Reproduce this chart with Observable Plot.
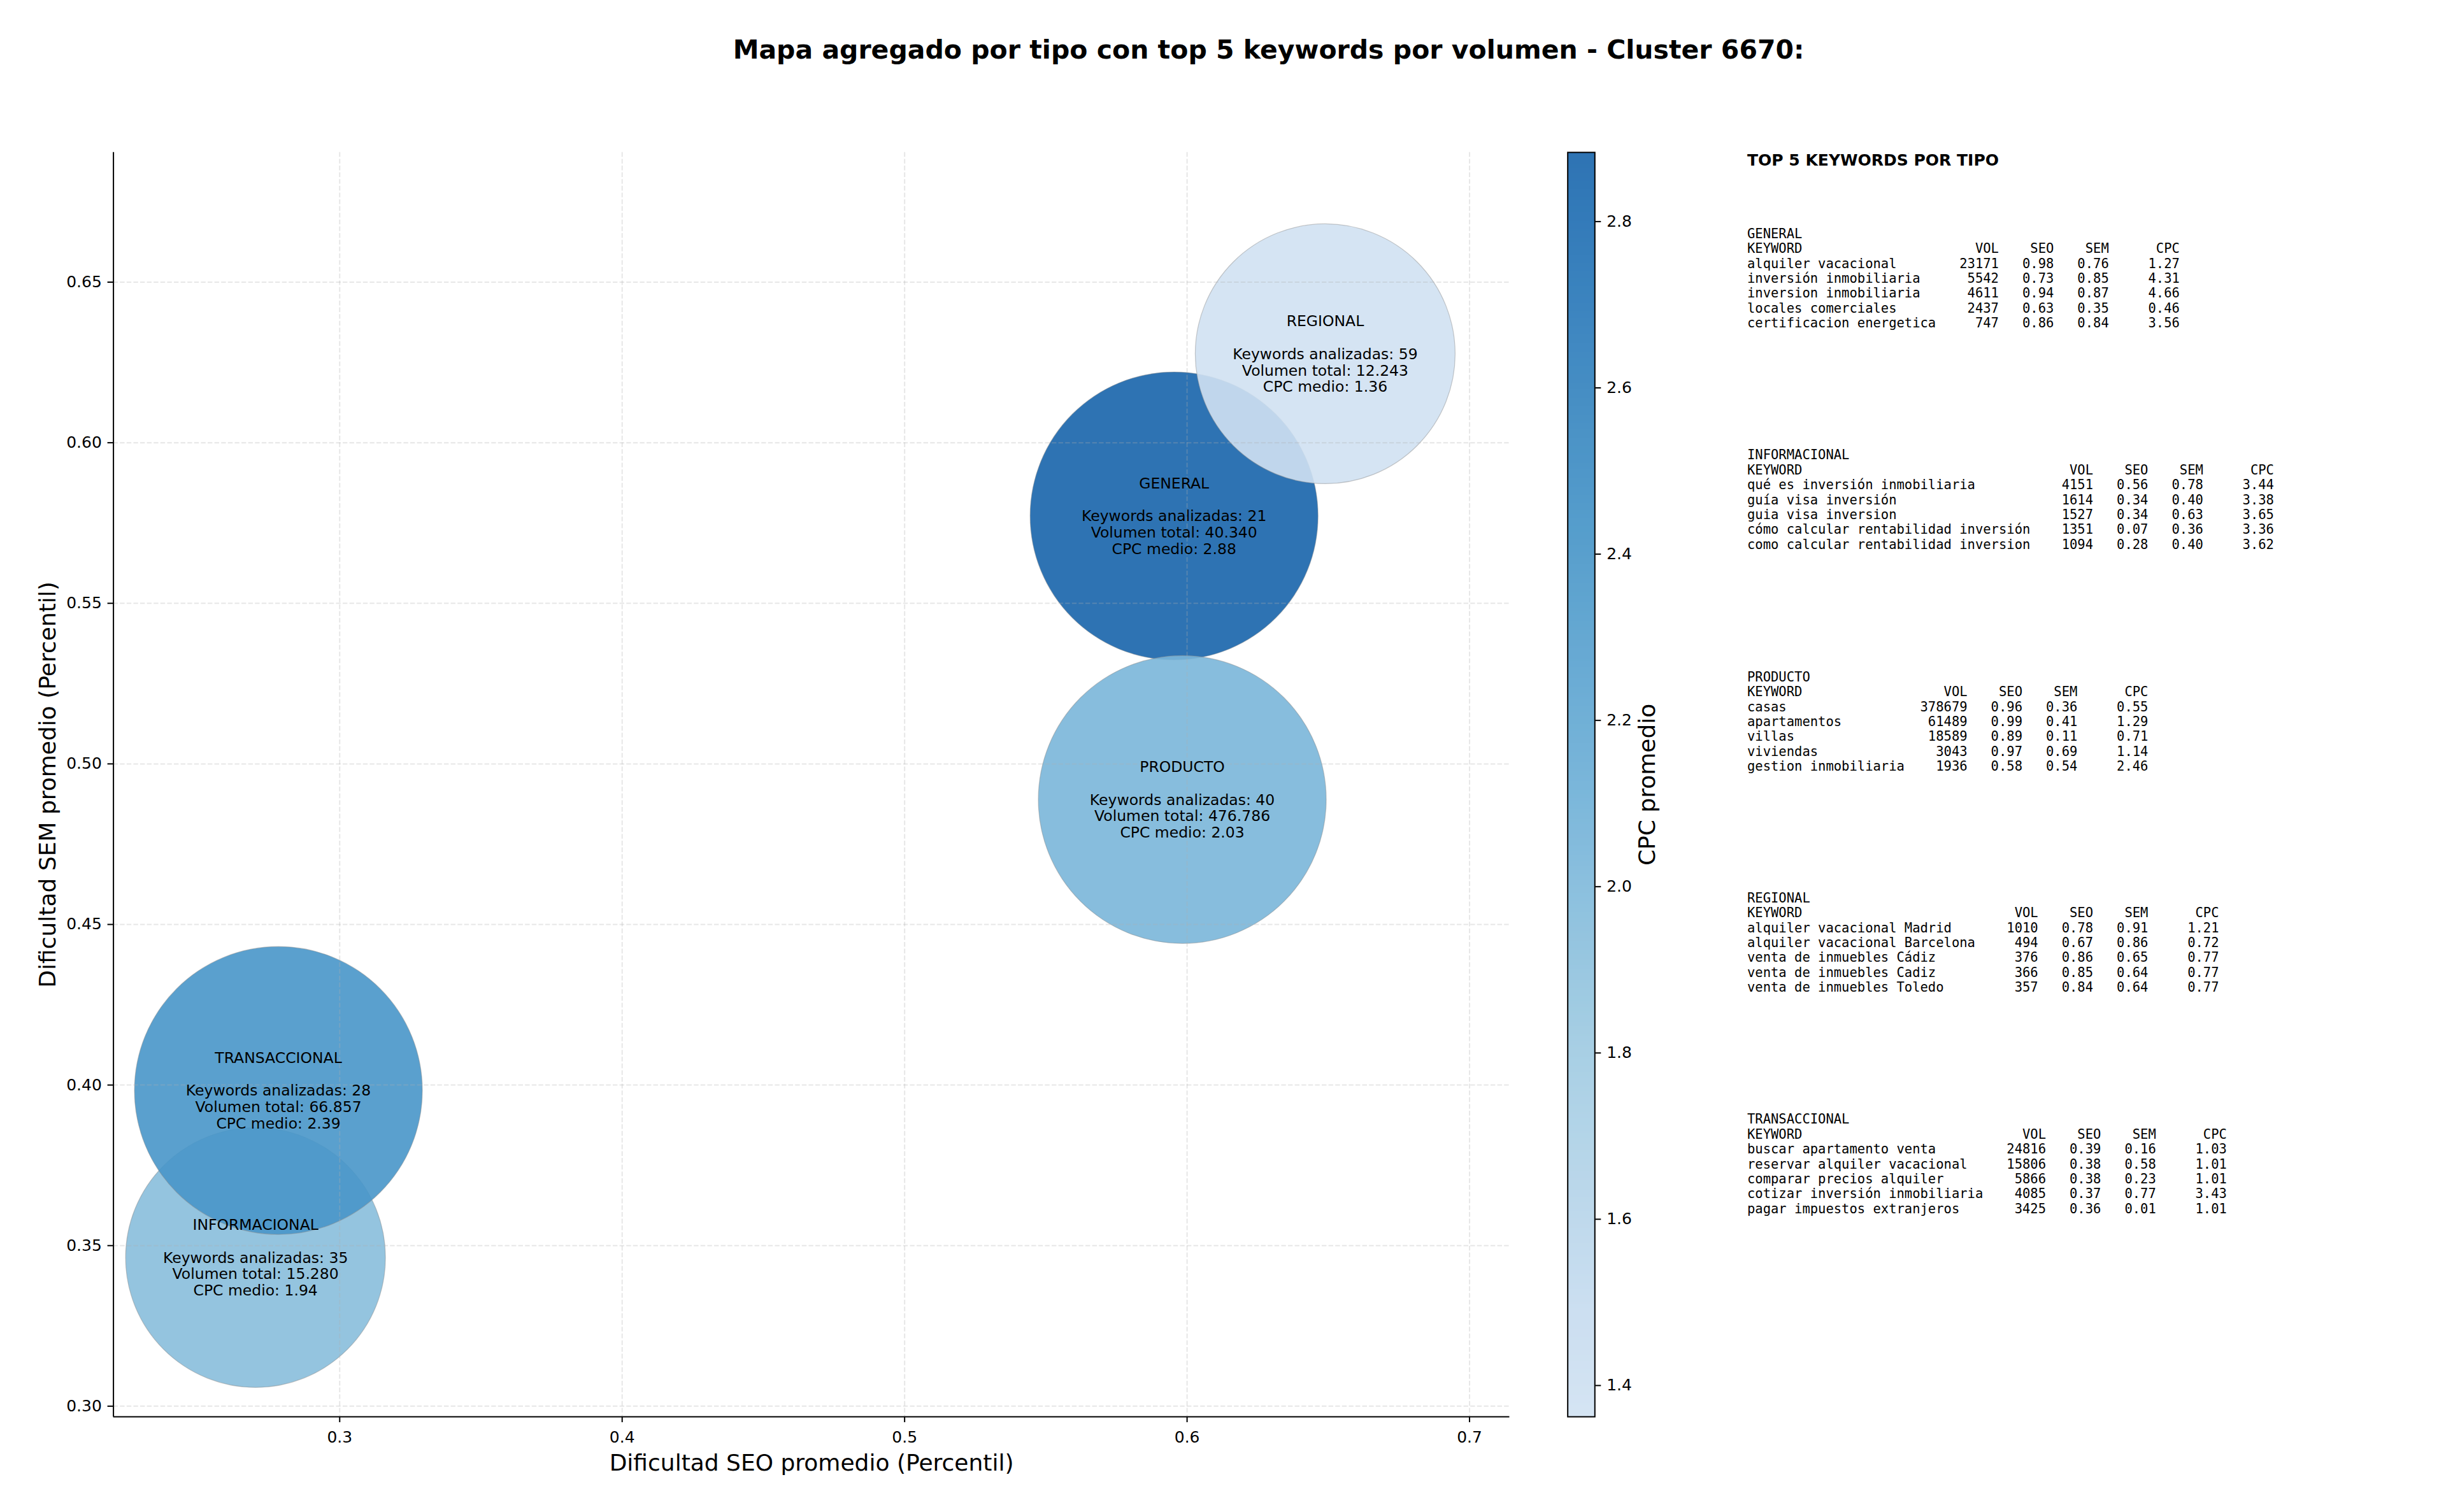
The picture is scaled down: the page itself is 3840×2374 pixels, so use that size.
<!DOCTYPE html>
<html><head><meta charset="utf-8">
<script src="https://cdn.jsdelivr.net/npm/d3@7"></script>
<script src="https://cdn.jsdelivr.net/npm/@observablehq/plot@0.6"></script>
<style>
html,body{margin:0;padding:0;background:#fff;}
#fig{position:relative;width:3840px;height:2374px;overflow:hidden;background:#fff;font-family:"DejaVu Sans",sans-serif;color:#000;}
.abs{position:absolute;}
#title{left:1991.5px;top:58px;transform:translateX(-50%);font-weight:bold;font-size:41px;line-height:41px;white-space:nowrap;}
#paneltitle{left:2743px;top:239px;font-weight:bold;font-size:25px;line-height:25px;white-space:nowrap;}
pre.block{margin:0;font-family:"DejaVu Sans Mono",monospace;font-size:20.5px;line-height:23.4px;left:2743px;}
#main{left:0;top:150px;}
#cbar{left:2440px;top:150px;}
</style></head><body>
<div id="fig">
  <div id="title" class="abs">Mapa agregado por tipo con top 5 keywords por volumen - Cluster 6670:</div>
  <div id="main" class="abs"></div>
  <div id="cbar" class="abs"></div>
  <div id="paneltitle" class="abs">TOP 5 KEYWORDS POR TIPO</div>
  <div id="panel"></div>
</div>
<script>
// ---------- Aggregated data per type ----------
const tipos      = ["GENERAL", "INFORMACIONAL", "PRODUCTO", "REGIONAL", "TRANSACCIONAL"];
const seoProm    = [0.5954, 0.2702, 0.5983, 0.6489, 0.2783];
const semProm    = [0.5772, 0.3463, 0.4889, 0.6277, 0.3983];
const nKeywords  = [21, 35, 40, 59, 28];
const volTotal   = [40340, 15280, 476786, 12243, 66857];
const cpcMedio   = [2.8832, 1.94, 2.03, 1.3624, 2.39];

// ---------- Tick labels ----------
const xTicks  = [0.3, 0.4, 0.5, 0.6, 0.7];
const yTicks  = [0.30, 0.35, 0.40, 0.45, 0.50, 0.55, 0.60, 0.65];
const cbTicks = [1.4, 1.6, 1.8, 2.0, 2.2, 2.4, 2.6, 2.8];
const xLabel  = "Dificultad SEO promedio (Percentil)";
const yLabel  = "Dificultad SEM promedio (Percentil)";
const cbLabel = "CPC promedio";

// ---------- Top 5 keywords per type: [keyword, VOL, SEO, SEM, CPC] ----------
const topGeneral = [
  ["alquiler vacacional", 23171, 0.98, 0.76, 1.27],
  ["inversión inmobiliaria", 5542, 0.73, 0.85, 4.31],
  ["inversion inmobiliaria", 4611, 0.94, 0.87, 4.66],
  ["locales comerciales", 2437, 0.63, 0.35, 0.46],
  ["certificacion energetica", 747, 0.86, 0.84, 3.56]
];
const topInformacional = [
  ["qué es inversión inmobiliaria", 4151, 0.56, 0.78, 3.44],
  ["guía visa inversión", 1614, 0.34, 0.40, 3.38],
  ["guia visa inversion", 1527, 0.34, 0.63, 3.65],
  ["cómo calcular rentabilidad inversión", 1351, 0.07, 0.36, 3.36],
  ["como calcular rentabilidad inversion", 1094, 0.28, 0.40, 3.62]
];
const topProducto = [
  ["casas", 378679, 0.96, 0.36, 0.55],
  ["apartamentos", 61489, 0.99, 0.41, 1.29],
  ["villas", 18589, 0.89, 0.11, 0.71],
  ["viviendas", 3043, 0.97, 0.69, 1.14],
  ["gestion inmobiliaria", 1936, 0.58, 0.54, 2.46]
];
const topRegional = [
  ["alquiler vacacional Madrid", 1010, 0.78, 0.91, 1.21],
  ["alquiler vacacional Barcelona", 494, 0.67, 0.86, 0.72],
  ["venta de inmuebles Cádiz", 376, 0.86, 0.65, 0.77],
  ["venta de inmuebles Cadiz", 366, 0.85, 0.64, 0.77],
  ["venta de inmuebles Toledo", 357, 0.84, 0.64, 0.77]
];
const topTransaccional = [
  ["buscar apartamento venta", 24816, 0.39, 0.16, 1.03],
  ["reservar alquiler vacacional", 15806, 0.38, 0.58, 1.01],
  ["comparar precios alquiler", 5866, 0.38, 0.23, 1.01],
  ["cotizar inversión inmobiliaria", 4085, 0.37, 0.77, 3.43],
  ["pagar impuestos extranjeros", 3425, 0.36, 0.01, 1.01]
];
const topBlocks = [topGeneral, topInformacional, topProducto, topRegional, topTransaccional];

// ---------- Build table ----------
const rows = tipos.map((t, i) => ({tipo: t, seo: seoProm[i], sem: semProm[i], n: nKeywords[i], vol: volTotal[i], cpc: cpcMedio[i]}));
const fmtVol = v => d3.format(",")(v).replace(/,/g, ".");
const label = d => `${d.tipo}\n\nKeywords analizadas: ${d.n}\nVolumen total: ${fmtVol(d.vol)}\nCPC medio: ${d3.format(".2f")(d.cpc)}`;

const BLUES = ["#f7fbff","#deebf7","#c6dbef","#9ecae1","#6baed6","#4292c6","#2171b5","#08519c","#08306b"];
const blues = d3.piecewise(d3.interpolateRgb, BLUES);
const cpcExtent = d3.extent(cpcMedio);
const colorOpts = {type: "linear", domain: cpcExtent, interpolate: t => blues(0.2 + 0.6 * t)};

const xDomain = [0.2199, 0.7142];
const yDomain = [0.2967, 0.6904];
const baseStyle = {fontFamily: "DejaVu Sans", fontSize: "25px", background: "transparent", overflow: "visible", color: "black"};
const gridStyle = {stroke: "#b0b0b0", strokeOpacity: 0.3, strokeWidth: 2, strokeDasharray: "7.4,3.2"};

const main = Plot.plot({
  width: 2440, height: 2224,
  marginTop: 88.8, marginBottom: 150, marginLeft: 177.6, marginRight: 70.5,
  style: baseStyle,
  x: {domain: xDomain},
  y: {domain: yDomain},
  r: {type: "log", domain: [15280, 40340], range: [204, 226], clamp: true},
  color: colorOpts,
  marks: [
    Plot.dot(rows, {x: "seo", y: "sem", r: "vol", fill: "cpc", fillOpacity: 0.9, stroke: "#8a8a8a", strokeOpacity: 0.45, strokeWidth: 1.2, sort: null}),
    Plot.gridX(xTicks, gridStyle),
    Plot.gridY(yTicks, gridStyle),
    Plot.text(rows, {x: "seo", y: "sem", text: label, fontSize: 23.5, lineHeight: 25.8 / 23.5, fill: "black"}),
    Plot.ruleX([xDomain[0]], {stroke: "black", strokeWidth: 2}),
    Plot.ruleY([yDomain[0]], {stroke: "black", strokeWidth: 2}),
    Plot.axisX(xTicks, {tickSize: 9, tickPadding: 14, strokeWidth: 2, tickFormat: d => d.toFixed(1), label: null, fontSize: 25}),
    Plot.axisY(yTicks, {tickSize: 9, tickPadding: 9.3, strokeWidth: 2, tickFormat: d => d.toFixed(2), label: null, fontSize: 25}),
    Plot.text([xLabel], {frameAnchor: "bottom", textAnchor: "middle", dy: 84, lineAnchor: "bottom", fontSize: 36}),
    Plot.text([yLabel], {frameAnchor: "left", textAnchor: "middle", dx: -102.6, rotate: -90, fontSize: 36})
  ]
});
document.getElementById("main").appendChild(main);

const cbar = Plot.plot({
  width: 240, height: 2224,
  marginTop: 88.8, marginBottom: 150, marginLeft: 20.7, marginRight: 176.7,
  style: baseStyle,
  x: {domain: [0, 1], axis: null},
  y: {domain: cpcExtent},
  color: colorOpts,
  marks: [
    Plot.raster({x1: 0, x2: 1, y1: cpcExtent[0], y2: cpcExtent[1], width: 2, height: 600, fill: (x, y) => y, fillOpacity: 0.9}),
    Plot.frame({stroke: "black", strokeWidth: 2}),
    Plot.axisY(cbTicks, {anchor: "right", tickSize: 9, tickPadding: 9.4, strokeWidth: 2, tickFormat: d => d.toFixed(1), label: null, fontSize: 25}),
    Plot.text([cbLabel], {frameAnchor: "right", textAnchor: "middle", dx: 82.2, rotate: -90, fontSize: 36})
  ]
});
document.getElementById("cbar").appendChild(cbar);

// ---------- Right text panel ----------
const blockTops = [355.7, 703.3, 1051.7, 1398.7, 1746.3];
const panel = document.getElementById("panel");
topBlocks.forEach((block, i) => {
  const w = d3.max(block, r => r[0].length);
  const lines = [tipos[i],
    "KEYWORD".padEnd(w) + "VOL".padStart(8) + "SEO".padStart(7) + "SEM".padStart(7) + "CPC".padStart(9)];
  block.forEach(r => lines.push(r[0].padEnd(w) + String(r[1]).padStart(8) + r[2].toFixed(2).padStart(7) + r[3].toFixed(2).padStart(7) + r[4].toFixed(2).padStart(9)));
  const pre = document.createElement("pre");
  pre.className = "block abs";
  pre.style.top = blockTops[i] + "px";
  pre.textContent = lines.join("\n");
  panel.appendChild(pre);
});
</script>
</body></html>
